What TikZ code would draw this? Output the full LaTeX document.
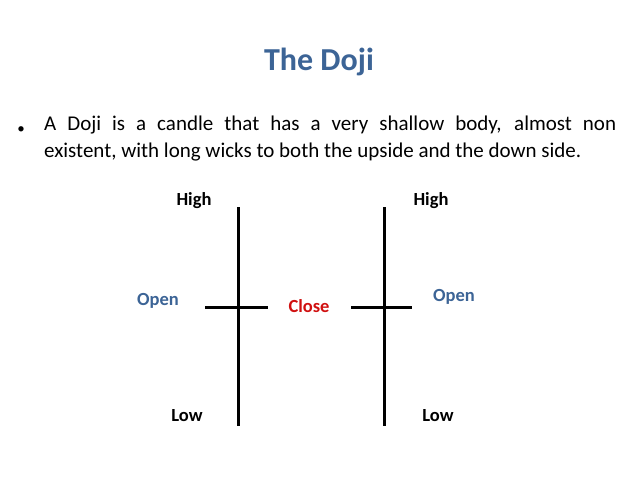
\documentclass[tikz,border=0pt]{standalone}
\usepackage{fontspec}
\setmainfont{Carlito}
\definecolor{tblue}{HTML}{3C6496}
\definecolor{cred}{HTML}{D01010}
\begin{document}
\begin{tikzpicture}[x=1pt,y=-1pt,
  wick/.style={line width=3pt,black},
  lbl/.style={font=\fontsize{18.5}{20}\selectfont\bfseries,inner sep=0pt}]
\useasboundingbox (0,0) rectangle (638,479);
\node[font=\fontsize{32}{36}\selectfont\bfseries,text=tblue,inner sep=0] (title) at (319,62) {The Doji};
\node[inner sep=0] (bul) at (21,130) {\fontsize{15}{20}\selectfont •};
\node[anchor=north west,inner sep=0,text width=572pt,align=justify,font=\fontsize{21}{27}\selectfont] (txt) at (44,116)
 {A Doji is a candle that has a very shallow body, almost non\linebreak existent, with long wicks to both the upside and the down side.};
\coordinate (a1) at (238,207); \coordinate (a2) at (238,426);
\coordinate (b1) at (205,307); \coordinate (b2) at (268,307);
\coordinate (c1) at (384,207); \coordinate (c2) at (384,426);
\coordinate (d1) at (351,307); \coordinate (d2) at (412,307);
\draw[wick] (a1) -- (a2); \draw[wick] (b1) -- (b2);
\draw[wick] (c1) -- (c2); \draw[wick] (d1) -- (d2);
\node[lbl] (h1) at (194,201) {High};
\node[lbl] (h2) at (431,201) {High};
\node[lbl,text=tblue] (o1) at (158,301) {Open};
\node[lbl,text=cred] (cl) at (309,306) {Close};
\node[lbl,text=tblue] (o2) at (454,297) {Open};
\node[lbl] (l1) at (187,416) {Low};
\node[lbl] (l2) at (438,416) {Low};
\end{tikzpicture}
\end{document}
